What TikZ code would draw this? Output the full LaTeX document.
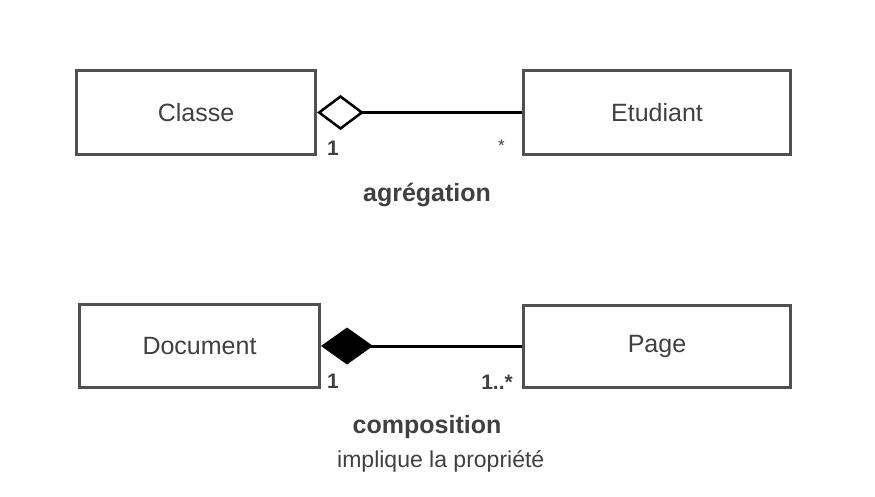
\documentclass[tikz,border=0pt]{standalone}
\usepackage{fontspec}
\setmainfont{Liberation Sans}
\usetikzlibrary{positioning, arrows.meta}
\definecolor{umlText}  {RGB}{ 64, 64, 64}
\definecolor{umlBorder}{RGB}{ 80, 80, 80}
\definecolor{umlLine}  {RGB}{  0,  0,  0}
\tikzset{
  classbox/.style={
    rectangle, draw=umlBorder, line width=3pt, inner sep=0pt,
    minimum height=84pt, text=umlText,
    font=\fontsize{25}{30}\selectfont
  },
  assoc/.style={
    line width=3pt, color=umlLine
  },
  aggr/.style={
    assoc, {Diamond[open, length=47pt, width=35pt, line width=2.5pt]}-
  },
  compo/.style={
    assoc, {Diamond[length=52pt, width=37pt]}-
  },
  mult/.style={
    inner sep=0pt, text=umlText, font=\fontsize{21}{24}\selectfont\bfseries
  },
  multStar/.style={
    inner sep=0pt, text=umlText, font=\fontsize{17}{20}\selectfont
  },
  kind/.style={
    inner sep=0pt, text=umlText, font=\fontsize{25}{30}\selectfont\bfseries
  },
  note/.style={
    inner sep=0pt, text=umlText, font=\fontsize{23}{28}\selectfont
  }
}

\begin{document}
\begin{tikzpicture}[x=1pt, y=-1pt]

    \useasboundingbox (0,0) rectangle (875,497);

    % aggregation
    \node (classe) [classbox, minimum width=239pt] at (196,112.5) {Classe};
    \node (etudiant) [classbox, minimum width=267pt, right=205pt of classe] {Etudiant};

    \draw [aggr] (classe.east) -- (etudiant.west);

    \node (classeMult) [mult, above right=0pt and 10pt of classe.south east] {1};
    \node (etudiantMult) [multStar, above left=4pt and 17pt of etudiant.south west] {*};
    \node (aggrLabel) [kind] at (427,195) {agrégation};

    % composition
    \node (document) [classbox, minimum width=240pt, minimum height=83pt] at (199.5,346) {Document};
    \node (page) [classbox, minimum width=267pt, minimum height=82pt, right=201pt of document] {Page};

    \draw [compo] (document.east) -- (page.west);

    \node (documentMult) [mult, above right=0pt and 6pt of document.south east] {1};
    \node (pageMult) [mult, above left=-1pt and 9pt of page.south west] {1..*};
    \node (compoLabel) [kind] at (427,427) {composition};
    \node (compoNote) [note, anchor=west] at (337,461) {implique la propriété};

\end{tikzpicture}
\end{document}
